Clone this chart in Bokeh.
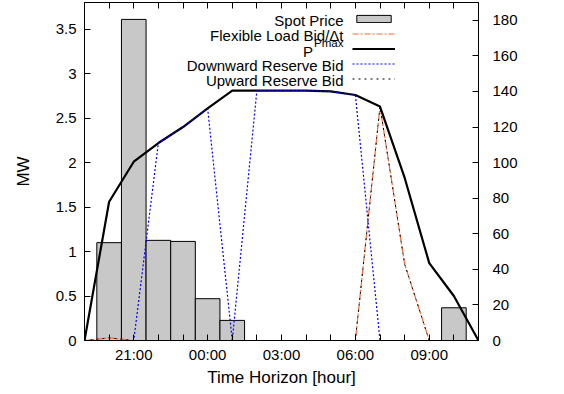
import math
from bokeh.plotting import figure
from bokeh.models import (Range1d, LinearAxis, FixedTicker, Legend, LegendItem,
                          Label, ColumnDataSource)
from bokeh.core.properties import value
from bokeh.embed import file_html
from bokeh.resources import INLINE

# ---------------- data ----------------
time_labels = ["19:00", "20:00", "21:00", "22:00", "23:00", "00:00", "01:00",
               "02:00", "03:00", "04:00", "05:00", "06:00", "07:00", "08:00",
               "09:00", "10:00", "11:00"]
shown_labels = ["21:00", "00:00", "03:00", "06:00", "09:00"]
spot_price = [0, 55.0, 180.5, 56.3, 55.7, 23.5, 11.3, 0, 0, 0, 0, 0, 0, 0, 0, 18.4, 0]
flex_bid = [0, 0.03, 0, 0, 0, 0, 0, 0, 0, 0, 0, 0, 2.63, 0.86, 0, 0, 0]
p_max = [0, 1.56, 2.01, 2.22, 2.40, 2.61, 2.81, 2.81, 2.81, 2.81, 2.80, 2.76,
         2.63, 1.83, 0.87, 0.50, 0]
down_bid = [0, 0, 0, 2.22, 2.40, 2.61, 0, 2.81, 2.81, 2.81, 2.80, 2.76, 0, 0, 0, 0, 0]
up_bid = [0, 0.03, 0, 0, 0, 0, 0, 0, 0, 0, 0, 0, 2.63, 0.86, 0, 0, 0]
mw_ticks = [0, 0.5, 1, 1.5, 2, 2.5, 3, 3.5]
eur_ticks = [0, 20, 40, 60, 80, 100, 120, 140, 160, 180]

hours = list(range(len(time_labels)))
FONT = "Liberation Sans"

src = ColumnDataSource(dict(hour=hours, spot=spot_price, flex=flex_bid,
                            pmax=p_max, down=down_bid, up=up_bid))

# pixel geometry of the plotting frame
W, H = 560, 392
FR_L, FR_R, FR_T, FR_B = 84, 478, 2, 340

X_MAX = len(time_labels) - 1
Y_MAX = 3.8
p = figure(width=W, height=H, x_range=Range1d(0, X_MAX), y_range=Range1d(0, Y_MAX),
           output_backend="svg", toolbar_location=None,
           x_axis_location=None, y_axis_location=None,
           min_border_left=FR_L, min_border_right=W - FR_R, min_border_top=FR_T,
           min_border_bottom=H - FR_B)
p.extra_y_ranges = {"eur": Range1d(0, 190)}
p.xgrid.visible = False
p.ygrid.visible = False
p.outline_line_color = "black"
p.outline_line_width = 1
p.background_fill_color = "white"
p.border_fill_color = "white"


def style_axis(ax, standoff):
    ax.major_tick_in = 6
    ax.major_tick_out = 0
    ax.minor_tick_line_color = None
    ax.axis_line_color = "black"
    ax.major_tick_line_color = "black"
    ax.major_label_standoff = standoff
    ax.major_label_text_font = FONT
    ax.major_label_text_font_size = "15px"
    ax.major_label_text_color = "black"
    ax.axis_label_text_font = FONT
    ax.axis_label_text_font_size = "17px"
    ax.axis_label_text_font_style = "normal"
    ax.axis_label_text_color = "black"


left = LinearAxis(ticker=FixedTicker(ticks=mw_ticks),
                  major_label_overrides={t: f"{t:g}" for t in mw_ticks},
                  axis_label="MW")
style_axis(left, 8)
left.axis_label_standoff = 20
p.add_layout(left, "left")

bottom = LinearAxis(ticker=FixedTicker(ticks=hours),
                    major_label_overrides={h: (lbl if lbl in shown_labels else "")
                                           for h, lbl in zip(hours, time_labels)},
                    axis_label="Time Horizon [hour]")
style_axis(bottom, 5)
bottom.axis_label_standoff = 2
p.add_layout(bottom, "below")

right = LinearAxis(y_range_name="eur", ticker=FixedTicker(ticks=eur_ticks))
style_axis(right, 14)
p.add_layout(right, "right")

top = LinearAxis(ticker=FixedTicker(ticks=hours),
                 major_label_overrides={h: "" for h in hours})
style_axis(top, 0)
top.major_label_text_font_size = "1px"
p.add_layout(top, "above")

# ---------------- glyphs ----------------
r_spot = p.vbar(x="hour", top="spot", bottom=0, width=1, source=src, y_range_name="eur",
                fill_color="#c8c8c8", line_color="black", line_width=1)
r_flex = p.line("hour", "flex", source=src, line_color="#ff6a30", line_width=1.2,
                line_dash="6 2 2 2")
r_pmax = p.line("hour", "pmax", source=src, line_color="black", line_width=2.2)
r_down = p.line("hour", "down", source=src, line_color="#0000ff", line_width=1.2,
                line_dash="2 2")
r_up = p.line("hour", "up", source=src, line_color="black", line_width=1,
              line_dash="2 4")


# ---------------- legend (gnuplot style: text left, sample right) ----------------
def px2x(px):
    return (px - FR_L) * X_MAX / (FR_R - FR_L)


def py2y(py):
    return (FR_B - py) * Y_MAX / (FR_B - FR_T)


legend = Legend(items=[LegendItem(label=value(""), renderers=[r])
                       for r in (r_spot, r_flex, r_pmax, r_down, r_up)],
                location=(351.7 - FR_L, FR_B - 85.5), orientation="vertical",
                glyph_width=43, glyph_height=9, label_width=0, label_height=15,
                label_standoff=0, spacing=0, padding=0, margin=0,
                border_line_color=None, background_fill_alpha=0,
                label_text_font_size="1px")
p.add_layout(legend, "center")

legend_texts = ["Spot Price", "Flexible Load Bid/\u0394t", None,
                "Downward Reserve Bid", "Upward Reserve Bid"]
for i, txt in enumerate(legend_texts):
    base = 20 + 15 * i
    if txt is None:
        p.add_layout(Label(x=px2x(312.5), y=py2y(base + 1), text="P", text_align="right",
                           text_baseline="alphabetic", text_font=FONT,
                           text_font_size="15px", text_color="black"))
        p.add_layout(Label(x=px2x(343), y=py2y(base - 7.5), text="Pmax", text_align="right",
                           text_baseline="alphabetic", text_font=FONT,
                           text_font_size="11.5px", text_color="black"))
    else:
        p.add_layout(Label(x=px2x(343), y=py2y(base), text=txt, text_align="right",
                           text_baseline="alphabetic", text_font=FONT,
                           text_font_size="15px", text_color="black"))

# right axis title, reading bottom-to-top like the original
p.add_layout(Label(x=px2x(538), y=py2y(163), text="EUR/MWh", angle=math.pi / 2,
                   text_align="center", text_baseline="middle", text_font=FONT,
                   text_font_size="17px", text_color="black"))

open("out.html", "w").write(file_html(p, INLINE))
